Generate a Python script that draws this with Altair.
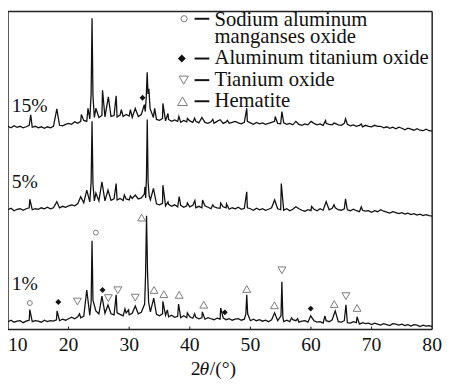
import altair as alt
import pandas as pd

FONT = "Liberation Serif"
INK = "#111111"
GREY = "#7a7a7a"

# 2theta sampling grid of the background trace (0.5 deg steps, 10..80)
GRID = [10 + 0.5 * i for i in range(141)]

# ---------- 1 % pattern (intensity, a.u., stacked offset included) ----------
base_1 = [
    8, 9.5, 7.5, 8.5, 9, 7, 8.5, 9.5, 8, 9,
    8.5, 7.5, 9.5, 8, 9, 8.5, 10, 9, 10.5, 9.5,
    11, 12.5, 11, 13, 12, 13.5, 12.5, 14.5, 15, 19,
    16, 14, 16.5, 14.5, 16, 15, 17, 15.5, 14, 17,
    15, 16.5, 14.5, 16, 17.5, 22, 40, 18, 16, 15.5,
    14, 16, 14.5, 13, 14.5, 12.5, 13.5, 12, 14, 12,
    13, 11.5, 12.5, 11, 12, 10.5, 12, 11, 10, 11.5,
    10.5, 12, 10, 11, 9.5, 10.5, 11, 9.5, 10.5, 10,
    9, 10.5, 9, 10, 8.5, 9.5, 8, 10, 10.5, 9,
    9, 8, 9.5, 8, 10, 9, 7.5, 8.5, 9, 7.5,
    8, 9, 7.5, 8, 6.5, 9, 8, 10, 9, 8,
    7.5, 9, 7, 6.5, 8, 7, 5.5, 7, 6, 6.5,
    5, 6.5, 5.5, 4.5, 6, 5, 4, 6, 5.5, 4.5,
    5.5, 4, 5, 3.5, 5, 4.5, 3, 4.5, 3.5, 4,
    3,
]
peaks_1 = [
    (13.6, 20.3), (18.1, 19), (21.8, 16), (23.0, 40.3),
    (23.72, 28), (23.87, 90.3), (24.02, 30),
    (25.5, 34), (26.5, 25), (27.85, 35.3), (29.3, 21), (29.9, 20), (31.0, 24),
    (32.55, 26), (32.7, 55), (32.86, 116), (33.02, 60), (33.2, 28),
    (34.05, 32), (35.56, 28.7), (36.3, 20), (38.15, 26), (39.6, 17),
    (40.8, 16), (42.07, 18), (45.1, 22),
    (49.25, 16), (49.4, 35.3), (49.55, 16), (54.0, 17),
    (55.05, 14), (55.2, 48.7), (55.35, 13), (56.8, 12), (57.8, 11),
    (59.95, 14), (62.3, 14), (64.0, 19), (65.77, 25.3), (67.6, 13),
]

# ---------- 5 % pattern ----------
base_5 = [
    122, 123.5, 121, 122.5, 123, 121.5, 123, 124, 122, 123,
    122.5, 124, 123, 124.5, 123, 124, 125, 124, 125.5, 124.5,
    126, 127, 126, 128, 127, 129, 128.5, 130, 131, 132,
    131, 132.5, 131, 133, 131.5, 133, 132, 133.5, 131.5, 133,
    132, 133.5, 131.5, 133, 134, 138, 150, 132, 130, 128,
    127, 128.5, 126, 127.5, 125.5, 127, 125, 126.5, 124.5, 126,
    125, 126.5, 124, 125.5, 124, 126, 124.5, 123, 125, 124,
    123.5, 125, 124, 122.5, 124, 123, 124.5, 122.5, 123.5, 124,
    123, 121.5, 123.5, 122, 123, 121.5, 122.5, 124, 124, 123,
    122, 121.5, 123, 121, 122.5, 121, 123, 121.5, 120.5, 122,
    121, 122.5, 121, 123, 121.5, 124, 122, 123.5, 124, 122,
    121.5, 123, 122, 121, 122.5, 121, 120, 121.5, 120.5, 121,
    119.5, 121, 120, 119, 120.5, 119.5, 118.5, 120, 119, 118,
    119, 117.5, 118.5, 117, 118, 116.5, 117.5, 116, 117, 116,
    115.5,
]
peaks_5 = [
    (13.6, 132.7), (18.06, 130.3), (22.0, 135.3), (23.0, 142),
    (23.72, 150), (23.87, 212), (24.02, 148), (24.25, 131),
    (24.5, 139), (25.5, 150.3), (26.5, 142), (27.85, 148.7), (29.2, 137), (30.2, 136), (31.0, 137),
    (32.6, 145.3), (32.72, 134), (32.85, 155), (32.98, 214), (33.12, 150), (33.3, 136),
    (34.0, 143.7), (35.56, 147), (36.4, 130), (38.25, 135.3), (39.6, 129),
    (40.84, 131.3), (42.1, 132), (43.8, 127),
    (45.1, 128.7), (46.06, 128), (49.4, 140.3), (54.0, 132), (55.1, 148.7), (57.5, 125),
    (60.1, 125.3), (62.5, 130.3), (63.8, 127), (65.7, 133), (68.3, 125), (71.5, 122),
]

# ---------- 15 % pattern ----------
base_15 = [
    207, 205.5, 207.5, 206, 207, 205.5, 206.5, 208, 206, 207,
    205.5, 206.5, 205, 206.5, 205.5, 207, 206, 208, 207.5, 209,
    210, 209, 211.5, 210, 212, 213, 212, 214.5, 216, 218,
    216, 218, 216.5, 218.5, 217, 218, 216.5, 218.5, 217, 219,
    217.5, 216, 218, 217, 219, 222, 230, 222, 216, 214,
    213, 215, 212.5, 214, 212, 213.5, 212, 211, 213, 211.5,
    212.5, 211, 212, 210.5, 212, 211, 210, 211.5, 210, 212,
    211, 210, 211.5, 210, 211, 212, 210.5, 209.5, 211, 212,
    210.5, 209, 211, 209.5, 210.5, 209, 210, 211, 212, 210,
    209.5, 210.5, 209, 210, 208.5, 210, 209, 208, 209.5, 208.5,
    209, 210, 208.5, 209.5, 208, 210, 209, 208.5, 210, 208.5,
    208, 210, 209, 207.5, 208.5, 207, 208, 206.5, 208, 207,
    206.5, 208, 206, 207, 205.5, 206.5, 205, 206, 204.5, 206,
    205, 203.5, 205, 204, 203, 204.5, 203, 202.5, 204, 202.5,
    202,
]
peaks_15 = [
    (13.75, 218.7), (18.06, 224.7), (22.1, 219), (23.2, 225.3),
    (23.72, 240), (23.87, 317), (24.02, 238), (24.25, 216),
    (24.5, 225.3), (25.6, 243.7), (26.56, 237), (27.85, 238), (28.7, 224), (30.2, 224), (31.0, 225.3),
    (32.5, 229), (32.65, 222), (32.8, 235), (32.97, 262), (33.1, 240), (33.25, 245.3), (33.45, 225),
    (34.2, 225.3), (35.56, 230.3), (36.4, 220), (38.2, 217), (39.6, 215),
    (40.8, 215.3), (42.0, 216), (43.8, 214),
    (45.0, 213.7), (46.2, 213), (49.4, 225.3), (54.1, 217), (55.2, 222), (57.5, 212),
    (60.0, 212), (62.4, 212.7), (63.8, 210.3), (65.7, 214.7), (68.3, 209.3), (71.0, 207),
]

# ---------- phase markers over the peaks ----------
circle_t = [13.6, 24.5]
circle_v = [27, 98.7]
diamond_t = [18.3, 25.6, 45.78, 59.95, 32.2]
diamond_v = [28, 40.3, 17.5, 21.3, 236]
tdown_t = [21.45, 26.56, 28.13, 31.0, 55.2, 65.77]
tdown_v = [28.5, 32, 40, 32.5, 60.3, 34]
tup_t = [32.05, 34.1, 35.72, 38.25, 42.3, 49.4, 53.97, 63.83, 67.6]
tup_v = [114, 40.3, 36, 35.3, 25.3, 41.3, 24.7, 26, 22]

# ---------- sample labels ----------
sample_names = ["15%", "5%", "1%"]
sample_t = [10.6, 10.6, 10.6]
sample_v = [222, 144, 40.3]

# ---------- legend ----------
legend_lines = ["Sodium aluminum", "manganses oxide", "Aluminum titanium oxide", "Tianium oxide", "Hematite"]
legend_text_t = 44.08
legend_text_v = [309.5, 291.5, 270, 248.5, 227]
legend_sym_t = [39.06, 38.68, 39.0, 38.8]
legend_sym_v = [316.5, 276, 254, 232.5]
legend_dash_t = [40.79, 43.22]

# ---------- x axis ----------
tick_vals = [10, 20, 30, 40, 50, 60, 70, 80]
tick_label_v = -22          # label baseline, below the frame
axis_title_parts = ["2", "θ", "/(°)"]
axis_title_t = [40.14, 41.6, 43.3]
axis_title_v = -46
x_lo, x_hi, v_lo, v_hi = 10, 80, 0, 324


def trace(base, peaks, name):
    pk = [p[0] for p in peaks]
    pts = [(g, b) for g, b in zip(GRID, base) if min(abs(g - x) for x in pk) > 0.06]
    pts += list(peaks)
    pts.sort(key=lambda p: p[0])
    return pd.DataFrame({"t": [p[0] for p in pts], "v": [p[1] for p in pts], "s": name})


lines = pd.concat([
    trace(base_1, peaks_1, "1%"),
    trace(base_5, peaks_5, "5%"),
    trace(base_15, peaks_15, "15%"),
], ignore_index=True)

xscale = alt.Scale(domain=[x_lo, x_hi], nice=False, zero=False)
yscale = alt.Scale(domain=[v_lo, v_hi], nice=False, zero=False)


def X(field="t:Q"):
    return alt.X(field, scale=xscale, axis=None)


def Y(field="v:Q"):
    return alt.Y(field, scale=yscale, axis=None)


line_layer = alt.Chart(lines).mark_line(color=INK, strokeWidth=1.3).encode(
    x=X(), y=Y(), detail="s:N"
)

tick_df = pd.DataFrame({"t": tick_vals[1:-1], "v0": 0, "v1": 3})
tick_layer = alt.Chart(tick_df).mark_rule(color=INK, strokeWidth=1).encode(
    x=X(), y=Y("v0:Q"), y2="v1:Q"
)

# frame (box around the plot)
vframe = alt.Chart(pd.DataFrame({"t": [x_lo, x_hi], "v0": v_lo, "v1": v_hi})).mark_rule(
    color="#222222", strokeWidth=1.5
).encode(x=X(), y=Y("v0:Q"), y2="v1:Q")
hframe = alt.Chart(pd.DataFrame({"t0": x_lo, "t1": x_hi, "v": [v_lo, v_hi]})).mark_rule(
    color="#222222", strokeWidth=1.5
).encode(x=X("t0:Q"), x2="t1:Q", y=Y())

first_lab = alt.Chart(pd.DataFrame({"t": tick_vals[:1], "v": tick_label_v, "txt": [str(tick_vals[0])]})).mark_text(
    align="left", baseline="alphabetic", font=FONT, fontSize=20, color=INK
).encode(x=X(), y=Y(), text="txt:N")
other_lab = alt.Chart(pd.DataFrame({"t": tick_vals[1:], "v": tick_label_v, "txt": [str(v) for v in tick_vals[1:]]})).mark_text(
    align="center", baseline="alphabetic", font=FONT, fontSize=20, color=INK
).encode(x=X(), y=Y(), text="txt:N")

title_up = alt.Chart(pd.DataFrame({"t": [axis_title_t[0], axis_title_t[2]], "v": axis_title_v,
                                   "txt": [axis_title_parts[0], axis_title_parts[2]]})).mark_text(
    align="left", baseline="alphabetic", font=FONT, fontSize=20, color=INK
).encode(x=X(), y=Y(), text="txt:N")
title_it = alt.Chart(pd.DataFrame({"t": [axis_title_t[1]], "v": axis_title_v, "txt": [axis_title_parts[1]]})).mark_text(
    align="left", baseline="alphabetic", font=FONT, fontSize=20, fontStyle="italic", color=INK
).encode(x=X(), y=Y(), text="txt:N")


def marks(ts, vs, shape, size, filled, color):
    df = pd.DataFrame({"t": ts, "v": vs})
    return alt.Chart(df).mark_point(
        shape=shape, size=size, filled=filled, color=color, strokeWidth=1, opacity=1
    ).encode(x=X(), y=Y())


m_circle = marks(circle_t, circle_v, "circle", 25, False, GREY)
m_diamond = marks(diamond_t, diamond_v, "diamond", 36, True, INK)
m_tdown = marks(tdown_t, tdown_v, "triangle-down", 64, False, GREY)
m_tup = marks(tup_t, tup_v, "triangle-up", 64, False, GREY)

lg_circle = marks(legend_sym_t[0:1], legend_sym_v[0:1], "circle", 40, False, GREY)
lg_diamond = marks(legend_sym_t[1:2], legend_sym_v[1:2], "diamond", 64, True, INK)
lg_tdown = marks(legend_sym_t[2:3], legend_sym_v[2:3], "triangle-down", 90, False, GREY)
lg_tup = marks(legend_sym_t[3:4], legend_sym_v[3:4], "triangle-up", 100, False, GREY)

dash_df = pd.DataFrame({"t": [legend_dash_t[0]] * 4, "t2": [legend_dash_t[1]] * 4, "v": legend_sym_v})
dash_layer = alt.Chart(dash_df).mark_rule(color=INK, strokeWidth=2).encode(
    x=X(), x2="t2:Q", y=Y()
)

legend_df = pd.DataFrame({"t": [legend_text_t] * len(legend_lines), "v": legend_text_v, "txt": legend_lines})
legend_text = alt.Chart(legend_df).mark_text(
    align="left", baseline="alphabetic", font=FONT, fontSize=21, color=INK
).encode(x=X(), y=Y(), text="txt:N")

sample_df = pd.DataFrame({"t": sample_t, "v": sample_v, "txt": sample_names})
sample_text = alt.Chart(sample_df).mark_text(
    align="left", baseline="alphabetic", font=FONT, fontSize=20, color=INK
).encode(x=X(), y=Y(), text="txt:N")

chart = alt.layer(
    line_layer, tick_layer, vframe, hframe,
    m_circle, m_diamond, m_tdown, m_tup,
    lg_circle, lg_diamond, lg_tdown, lg_tup,
    dash_layer, legend_text, sample_text,
    first_lab, other_lab, title_up, title_it,
).properties(
    width=432, height=324,
    autosize=alt.AutoSizeParams(type="none"),
    padding={"left": 0, "top": 0, "right": 10, "bottom": 52},
    background="white",
).configure_view(stroke=None)

chart.save("out.html", embed_options={"renderer": "svg", "actions": False})
